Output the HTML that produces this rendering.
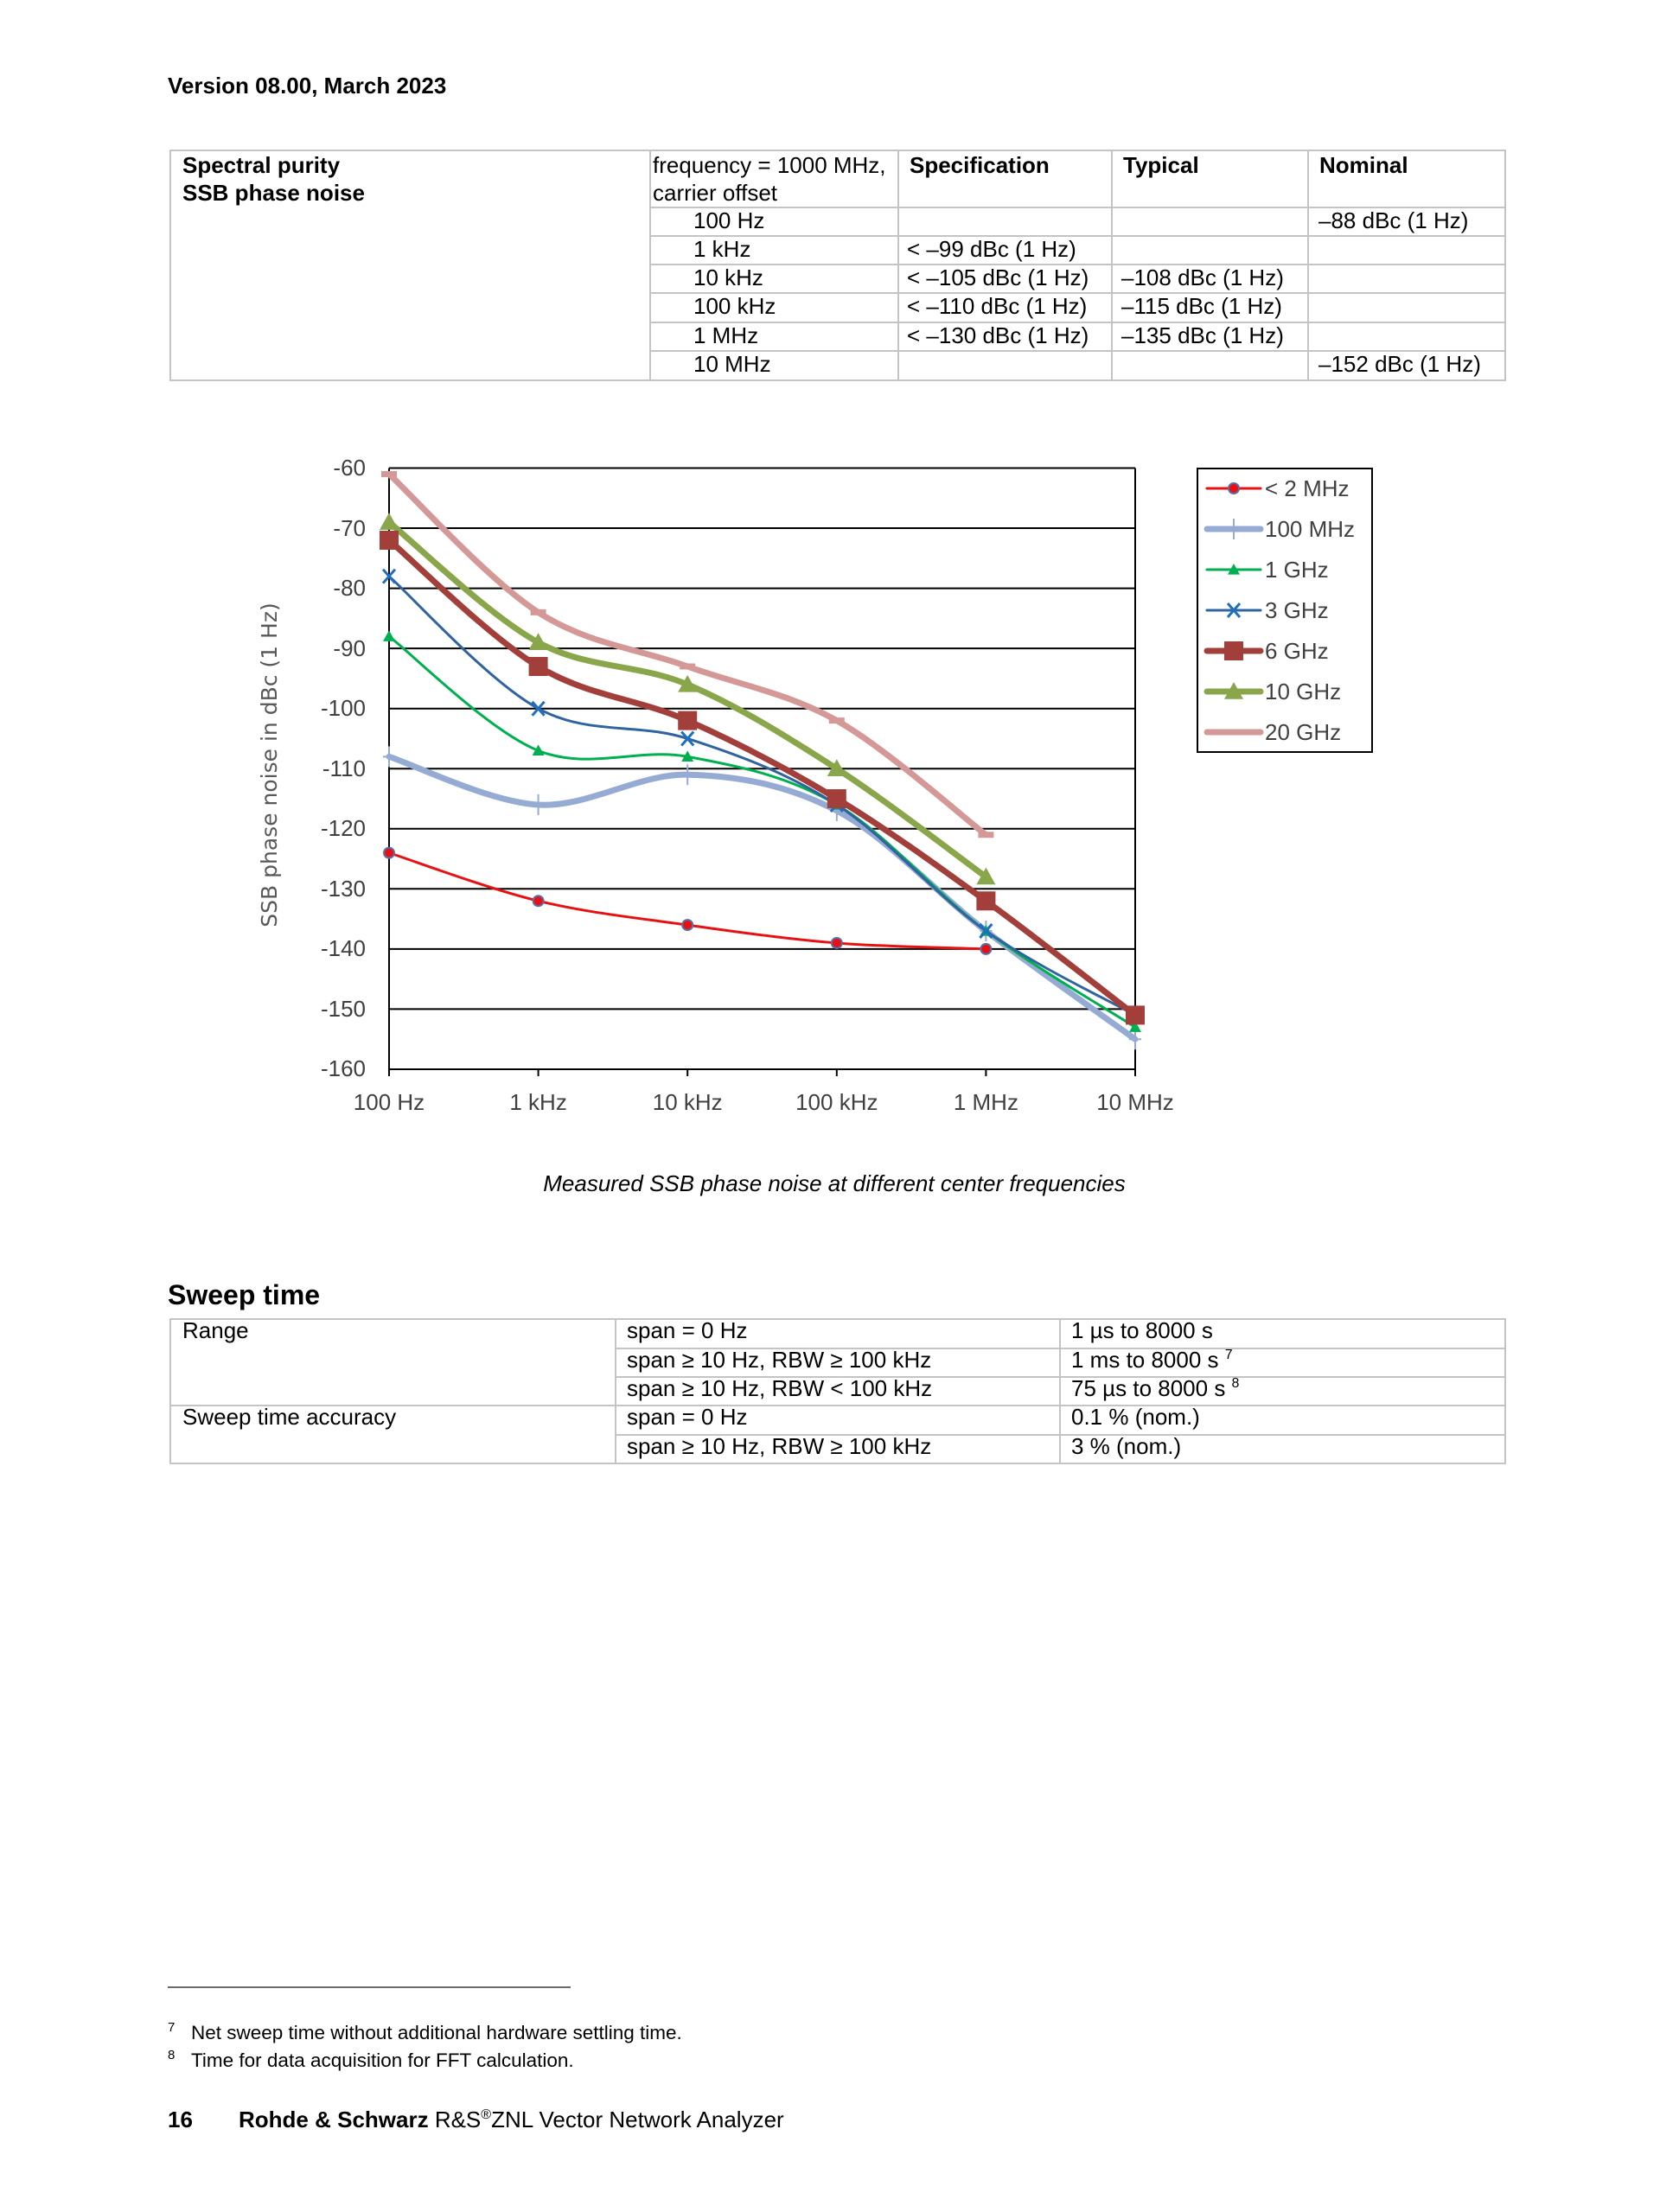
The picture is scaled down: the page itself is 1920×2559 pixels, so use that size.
<!DOCTYPE html>
<html><head><meta charset="utf-8">
<style>
body{margin:0;background:#fff;}
#pg{position:relative;width:1920px;height:2559px;overflow:hidden;font-family:"Liberation Sans",Arial,sans-serif;color:#000;}
.t{position:absolute;white-space:nowrap;font-size:26px;line-height:33px;}
.b{font-weight:bold;}
.hl{position:absolute;background:#c4c4c4;height:2px;}
.vl{position:absolute;background:#c4c4c4;width:2px;}
</style></head><body><div id="pg">

<div class="t b" style="left:194px;top:83px;">Version 08.00, March 2023</div>

<!-- Table 1 -->
<div class="hl" style="left:197px;width:1545px;top:173px;"></div>
<div class="hl" style="left:197px;width:1545px;top:439px;"></div>
<div class="hl" style="left:752px;width:990px;top:239px;"></div>
<div class="hl" style="left:752px;width:990px;top:272px;"></div>
<div class="hl" style="left:752px;width:990px;top:305px;"></div>
<div class="hl" style="left:752px;width:990px;top:338px;"></div>
<div class="hl" style="left:752px;width:990px;top:372px;"></div>
<div class="hl" style="left:752px;width:990px;top:405px;"></div>
<div class="vl" style="left:196px;top:173px;height:268px;"></div>
<div class="vl" style="left:751px;top:173px;height:268px;"></div>
<div class="vl" style="left:1038px;top:173px;height:268px;"></div>
<div class="vl" style="left:1285px;top:173px;height:268px;"></div>
<div class="vl" style="left:1512px;top:173px;height:268px;"></div>
<div class="vl" style="left:1740px;top:173px;height:268px;"></div>

<div class="t b" style="left:211px;top:175px;">Spectral purity</div>
<div class="t b" style="left:211px;top:207px;">SSB phase noise</div>
<div class="t" style="left:755px;top:175px;">frequency = 1000 MHz,</div>
<div class="t" style="left:755px;top:207px;">carrier offset</div>
<div class="t b" style="left:1052px;top:175px;">Specification</div>
<div class="t b" style="left:1299px;top:175px;">Typical</div>
<div class="t b" style="left:1526px;top:175px;">Nominal</div>

<div class="t" style="left:802px;top:239px;">100 Hz</div>
<div class="t" style="left:802px;top:272px;">1 kHz</div>
<div class="t" style="left:802px;top:305px;">10 kHz</div>
<div class="t" style="left:802px;top:338px;">100 kHz</div>
<div class="t" style="left:802px;top:372px;">1 MHz</div>
<div class="t" style="left:802px;top:405px;">10 MHz</div>

<div class="t" style="left:1049px;top:272px;">&lt; –99 dBc (1 Hz)</div>
<div class="t" style="left:1049px;top:305px;">&lt; –105 dBc (1 Hz)</div>
<div class="t" style="left:1049px;top:338px;">&lt; –110 dBc (1 Hz)</div>
<div class="t" style="left:1049px;top:372px;">&lt; –130 dBc (1 Hz)</div>
<div class="t" style="left:1297px;top:305px;">–108 dBc (1 Hz)</div>
<div class="t" style="left:1297px;top:338px;">–115 dBc (1 Hz)</div>
<div class="t" style="left:1297px;top:372px;">–135 dBc (1 Hz)</div>
<div class="t" style="left:1525px;top:239px;">–88 dBc (1 Hz)</div>
<div class="t" style="left:1525px;top:405px;">–152 dBc (1 Hz)</div>

<!-- Chart -->
<svg style="position:absolute;left:0;top:0" width="1920" height="1400" id="ch">
 <g stroke="#000" stroke-width="2">
  <line x1="450" y1="541.5" x2="1313" y2="541.5"/>
  <line x1="450" y1="611" x2="1313" y2="611"/>
  <line x1="450" y1="680.6" x2="1313" y2="680.6"/>
  <line x1="450" y1="750.1" x2="1313" y2="750.1"/>
  <line x1="450" y1="819.7" x2="1313" y2="819.7"/>
  <line x1="450" y1="889.2" x2="1313" y2="889.2"/>
  <line x1="450" y1="958.8" x2="1313" y2="958.8"/>
  <line x1="450" y1="1028.3" x2="1313" y2="1028.3"/>
  <line x1="450" y1="1097.9" x2="1313" y2="1097.9"/>
  <line x1="450" y1="1167.4" x2="1313" y2="1167.4"/>
  <line x1="450" y1="1237" x2="1313" y2="1237"/>
  <line x1="450" y1="541.5" x2="450" y2="1245"/>
  <line x1="1313" y1="541.5" x2="1313" y2="1245"/>
  <line x1="622.6" y1="1237" x2="622.6" y2="1245"/>
  <line x1="795.2" y1="1237" x2="795.2" y2="1245"/>
  <line x1="967.8" y1="1237" x2="967.8" y2="1245"/>
  <line x1="1140.4" y1="1237" x2="1140.4" y2="1245"/>
 </g>
 <g font-family="Liberation Sans, sans-serif" font-size="26" fill="#404040" text-anchor="end">
  <text x="423" y="550">-60</text><text x="423" y="620">-70</text><text x="423" y="689">-80</text>
  <text x="423" y="759">-90</text><text x="423" y="828">-100</text><text x="423" y="898">-110</text>
  <text x="423" y="967">-120</text><text x="423" y="1037">-130</text><text x="423" y="1106">-140</text>
  <text x="423" y="1176">-150</text><text x="423" y="1245">-160</text>
 </g>
 <g font-family="Liberation Sans, sans-serif" font-size="26" fill="#404040" text-anchor="middle">
  <text x="450" y="1284">100 Hz</text><text x="622.6" y="1284">1 kHz</text><text x="795.2" y="1284">10 kHz</text>
  <text x="967.8" y="1284">100 kHz</text><text x="1140.4" y="1284">1 MHz</text><text x="1313" y="1284">10 MHz</text>
 </g>
 <text transform="translate(320,885) rotate(-90)" font-family="DejaVu Sans, sans-serif" font-size="25" fill="#595959" text-anchor="middle">SSB phase noise in dBc (1 Hz)</text>
 <g id="series"></g>
 <rect x="1385" y="542" width="202" height="328" fill="#fff" stroke="#000" stroke-width="2"/>
 <g id="leg"></g>
 <g font-family="Liberation Sans, sans-serif" font-size="26" fill="#404040">
  <text x="1463" y="574">&lt; 2 MHz</text><text x="1463" y="621">100 MHz</text><text x="1463" y="668">1 GHz</text>
  <text x="1463" y="715">3 GHz</text><text x="1463" y="762">6 GHz</text><text x="1463" y="809">10 GHz</text>
  <text x="1463" y="856">20 GHz</text>
 </g>
</svg>

<div class="t" style="left:0;width:1930px;text-align:center;top:1353px;font-style:italic;">Measured SSB phase noise at different center frequencies</div>

<div class="t b" style="left:194px;top:1480px;font-size:32px;line-height:36px;">Sweep time</div>

<!-- Table 2 -->
<div class="hl" style="left:197px;width:1545px;top:1525px;"></div>
<div class="hl" style="left:712px;width:1030px;top:1559px;"></div>
<div class="hl" style="left:712px;width:1030px;top:1592px;"></div>
<div class="hl" style="left:197px;width:1545px;top:1625px;"></div>
<div class="hl" style="left:712px;width:1030px;top:1659px;"></div>
<div class="hl" style="left:197px;width:1545px;top:1692px;"></div>
<div class="vl" style="left:196px;top:1525px;height:169px;"></div>
<div class="vl" style="left:711px;top:1525px;height:169px;"></div>
<div class="vl" style="left:1225px;top:1525px;height:169px;"></div>
<div class="vl" style="left:1740px;top:1525px;height:169px;"></div>

<div class="t" style="left:211px;top:1523px;">Range</div>
<div class="t" style="left:211px;top:1623px;">Sweep time accuracy</div>
<div class="t" style="left:725px;top:1523px;">span = 0 Hz</div>
<div class="t" style="left:725px;top:1557px;">span ≥ 10 Hz, RBW ≥ 100 kHz</div>
<div class="t" style="left:725px;top:1590px;">span ≥ 10 Hz, RBW &lt; 100 kHz</div>
<div class="t" style="left:725px;top:1623px;">span = 0 Hz</div>
<div class="t" style="left:725px;top:1657px;">span ≥ 10 Hz, RBW ≥ 100 kHz</div>
<div class="t" style="left:1239px;top:1523px;">1 µs to 8000 s</div>
<div class="t" style="left:1239px;top:1557px;">1 ms to 8000 s <sup style="font-size:16px;vertical-align:10px;line-height:0">7</sup></div>
<div class="t" style="left:1239px;top:1590px;">75 µs to 8000 s <sup style="font-size:16px;vertical-align:10px;line-height:0">8</sup></div>
<div class="t" style="left:1239px;top:1623px;">0.1 % (nom.)</div>
<div class="t" style="left:1239px;top:1657px;">3 % (nom.)</div>

<div style="position:absolute;left:194px;top:2298px;width:466px;height:2px;background:#6a6a6a;"></div>
<div class="t" style="left:194px;top:2337px;font-size:15px;line-height:18px;">7</div>
<div class="t" style="left:221px;top:2339px;font-size:22.5px;line-height:26px;">Net sweep time without additional hardware settling time.</div>
<div class="t" style="left:194px;top:2369px;font-size:15px;line-height:18px;">8</div>
<div class="t" style="left:221px;top:2371px;font-size:22.5px;line-height:26px;">Time for data acquisition for FFT calculation.</div>

<div class="t b" style="left:194px;top:2436px;font-size:26px;">16</div>
<div class="t" style="left:276px;top:2436px;font-size:26px;"><b>Rohde &amp; Schwarz</b> R&amp;S<sup style="font-size:16px;vertical-align:10px;line-height:0">®</sup>ZNL Vector Network Analyzer</div>

<script>
(function(){
var NS="http://www.w3.org/2000/svg";
function X(i){return 450+i*172.6;}
function Y(v){return 541.5+(-60-v)*6.955;}
var S=[
 {n:"20",c:"#d49897",w:7,d:[-61,-84,-93,-102,-121],m:"dash"},
 {n:"100",c:"#95abd3",w:7,d:[-108,-116,-111,-117,-137,-155],m:"plus"},
 {n:"1G",c:"#00b050",w:3,d:[-88,-107,-108,-116,-137,-153],m:"tri",ms:7},
 {n:"3G",c:"#2f64a0",w:3,d:[-78,-100,-105,-116,-137,-151],m:"x"},
 {n:"10G",c:"#8aa64a",w:7,d:[-69,-89,-96,-110,-128],m:"tri",ms:11},
 {n:"6G",c:"#a33f3b",w:7,d:[-72,-93,-102,-115,-132,-151],m:"sq"},
 {n:"2M",c:"#e81010",w:3,d:[-124,-132,-136,-139,-140],m:"dot"}
];
var g=document.getElementById("series");
function el(t,a){var e=document.createElementNS(NS,t);for(var k in a)e.setAttribute(k,a[k]);return e;}
function marker(p,x,y,s){
 var c=s.c;
 if(s.m=="dot"){p.appendChild(el("circle",{cx:x,cy:y,r:6,fill:"#e81010",stroke:"#5a6fa8","stroke-width":2}));}
 else if(s.m=="plus"){p.appendChild(el("path",{d:"M"+x+" "+(y-12)+"V"+(y+12)+"M"+(x-7)+" "+y+"H"+(x+7),stroke:c,"stroke-width":2,fill:"none"}));}
 else if(s.m=="tri"){var r=s.ms;p.appendChild(el("path",{d:"M"+x+" "+(y-r)+"L"+(x+r)+" "+(y+r*0.8)+"L"+(x-r)+" "+(y+r*0.8)+"Z",fill:c}));}
 else if(s.m=="x"){p.appendChild(el("path",{d:"M"+(x-7)+" "+(y-8)+"L"+(x+7)+" "+(y+8)+"M"+(x+7)+" "+(y-8)+"L"+(x-7)+" "+(y+8),stroke:"#1f6fc0","stroke-width":3,fill:"none"}));}
 else if(s.m=="sq"){p.appendChild(el("rect",{x:x-11,y:y-11,width:22,height:22,fill:c}));}
 else if(s.m=="dash"){p.appendChild(el("path",{d:"M"+(x-9)+" "+y+"H"+(x+9),stroke:c,"stroke-width":7}));}
}
S.forEach(function(s){
 var P=s.d.map(function(v,i){return [X(i),Y(v)];});
 var d="M"+P[0][0]+" "+P[0][1];
 for(var i=0;i<P.length-1;i++){
  var p0=P[i-1]||P[i],p1=P[i],p2=P[i+1],p3=P[i+2]||P[i+1];
  var k=1/6;
  d+="C"+(p1[0]+(p2[0]-p0[0])*k)+" "+(p1[1]+(p2[1]-p0[1])*k)+" "+(p2[0]-(p3[0]-p1[0])*k)+" "+(p2[1]-(p3[1]-p1[1])*k)+" "+p2[0]+" "+p2[1];
 }
 g.appendChild(el("path",{d:d,stroke:s.c,"stroke-width":s.w,fill:"none","stroke-linejoin":"round","stroke-linecap":"round"}));
 P.forEach(function(q){marker(g,q[0],q[1],s);});
});
var L=document.getElementById("leg");
var order=["2M","100","1G","3G","6G","10G","20"];
order.forEach(function(n,i){
 var s=S.filter(function(z){return z.n==n;})[0];
 var y=565+i*47;
 L.appendChild(el("line",{x1:1396,y1:y,x2:1458,y2:y,stroke:s.c,"stroke-width":s.w,"stroke-linecap":"round"}));
 if(s.m!="dash")marker(L,1427,y,s);
});
})();
</script>
</div></body></html>
